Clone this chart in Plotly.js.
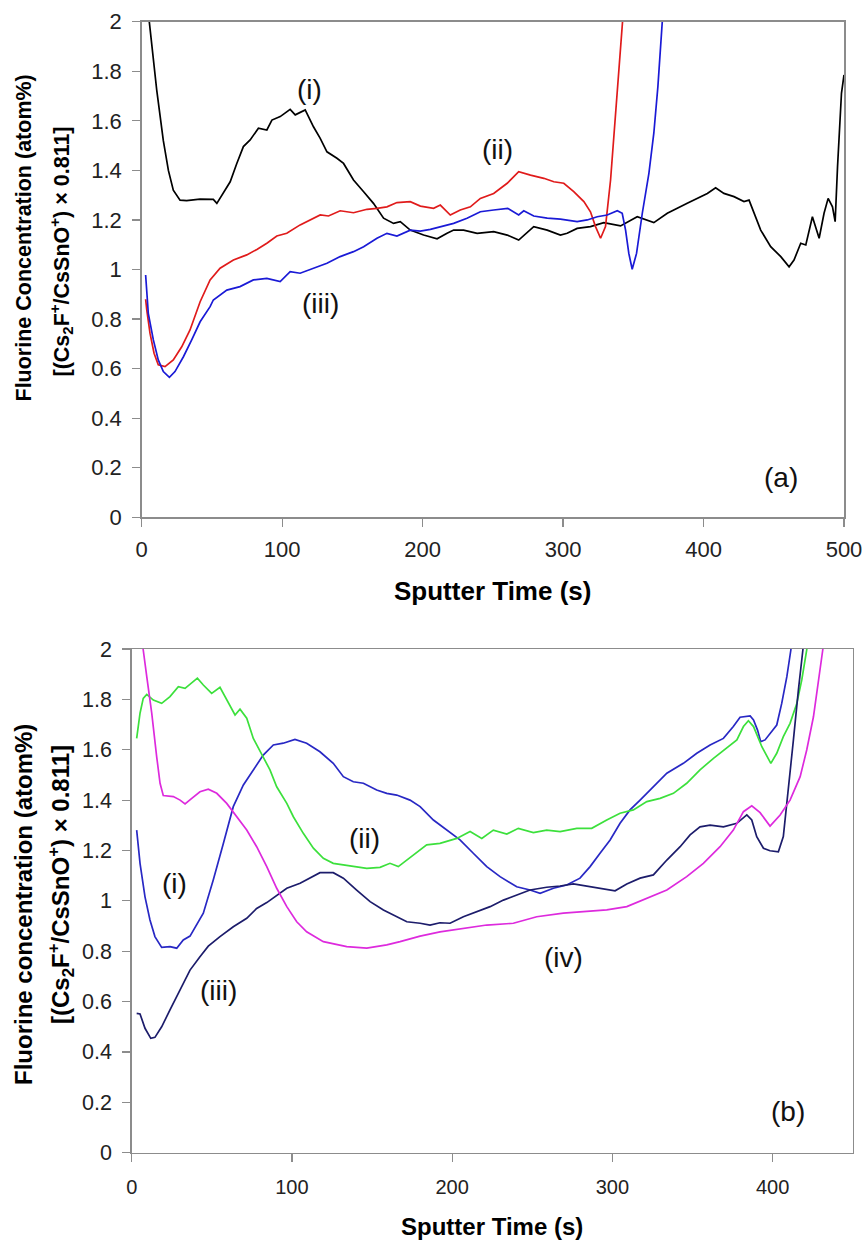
<!DOCTYPE html>
<html>
<head>
<meta charset="utf-8">
<script src="https://cdn.plot.ly/plotly-3.0.1.min.js"></script>
<style>html,body{margin:0;padding:0;background:#fff;}#chart{width:865px;height:1240px;}</style>
</head>
<body>
<div id="chart"></div>
<script>
// ---------- Panel (a) ----------
const a_i_x = [3.5, 5.4, 10.7, 13, 15.4, 19, 22.5, 27.3, 32, 41.5, 51, 53.5, 58, 63, 67.7, 72.4, 77.2, 83.1, 89.1, 92.7, 98.6, 105.7, 109.3, 114, 116.4, 122.3, 127.1, 131.9, 139, 143.7, 150.8, 158, 165, 172.2, 179.3, 184.1, 191.2, 200.7, 210.3, 217.4, 222.1, 229.2, 238.8, 250.6, 260.2, 268.4, 279.1, 288.7, 298.1, 302.9, 310, 319.5, 329, 340.9, 352.8, 364.6, 374.2, 388.4, 402.7, 408.6, 414.5, 421.7, 428.8, 432.4, 436, 440.7, 447.8, 455, 460.9, 464.4, 469.2, 472.8, 477.5, 482.3, 485.8, 488.7, 491.8, 493.7, 495.4, 498.2, 500];
const a_i_y = [2.3, 2.0, 1.724, 1.63, 1.52, 1.40, 1.32, 1.28, 1.278, 1.284, 1.283, 1.267, 1.307, 1.354, 1.428, 1.496, 1.523, 1.57, 1.563, 1.603, 1.617, 1.646, 1.624, 1.637, 1.644, 1.576, 1.529, 1.475, 1.449, 1.428, 1.361, 1.314, 1.267, 1.207, 1.186, 1.193, 1.159, 1.139, 1.124, 1.146, 1.159, 1.159, 1.146, 1.153, 1.139, 1.119, 1.173, 1.159, 1.139, 1.146, 1.166, 1.173, 1.189, 1.176, 1.213, 1.189, 1.227, 1.267, 1.307, 1.33, 1.307, 1.294, 1.274, 1.28, 1.227, 1.159, 1.092, 1.052, 1.011, 1.038, 1.106, 1.099, 1.213, 1.126, 1.227, 1.287, 1.253, 1.193, 1.415, 1.711, 1.785];

const a_ii_x = [2.8, 3.6, 5.9, 8.8, 11.8, 16.6, 22.5, 28.5, 34.4, 41.6, 48.7, 55.8, 65.3, 74.8, 82, 89.1, 96.2, 103.3, 112.8, 120, 127.1, 133, 141.3, 150.8, 160.4, 167.5, 174.6, 181.7, 191.2, 198.4, 207.8, 212.6, 219.7, 226.8, 234, 241.1, 250.6, 260.2, 268.4, 276.8, 286.3, 293.4, 300.5, 307.6, 314.8, 319.5, 323.1, 326.7, 330.2, 333.8, 337.4, 340.4, 342.8, 345];
const a_ii_y = [0.88, 0.837, 0.743, 0.662, 0.615, 0.608, 0.635, 0.688, 0.756, 0.87, 0.958, 1.005, 1.038, 1.059, 1.081, 1.106, 1.135, 1.146, 1.18, 1.2, 1.22, 1.216, 1.237, 1.229, 1.243, 1.247, 1.253, 1.27, 1.274, 1.256, 1.247, 1.26, 1.22, 1.24, 1.253, 1.287, 1.307, 1.348, 1.395, 1.381, 1.368, 1.354, 1.348, 1.314, 1.274, 1.233, 1.173, 1.126, 1.173, 1.361, 1.63, 1.845, 2.0, 2.2];

const a_iii_x = [2.8, 4.7, 8.3, 11.8, 15.4, 19.7, 23.7, 29.7, 35.6, 41.6, 48.7, 51, 60.6, 70, 79.5, 89.1, 98.6, 105.7, 112.8, 122.3, 131.9, 141.3, 150.8, 158, 167.5, 174.6, 181.7, 191.2, 198.4, 205.5, 212.6, 222.1, 231.6, 241.1, 250.6, 260.6, 268.4, 272, 279.1, 288.7, 298.1, 310, 317.2, 324.3, 331.4, 338.6, 342.1, 344.5, 346.8, 349.2, 352.3, 356.4, 361.1, 364.6, 367.5, 370.6, 373];
const a_iii_y = [0.978, 0.823, 0.716, 0.635, 0.588, 0.565, 0.588, 0.648, 0.716, 0.789, 0.85, 0.877, 0.917, 0.931, 0.958, 0.964, 0.951, 0.991, 0.985, 1.005, 1.025, 1.052, 1.072, 1.092, 1.126, 1.146, 1.135, 1.159, 1.155, 1.162, 1.173, 1.186, 1.207, 1.233, 1.24, 1.247, 1.22, 1.237, 1.216, 1.207, 1.203, 1.193, 1.2, 1.213, 1.22, 1.237, 1.227, 1.159, 1.065, 1.001, 1.065, 1.227, 1.388, 1.55, 1.738, 2.0, 2.2];

// ---------- Panel (b) ----------
const b_i_x = [3.1, 5.2, 8.3, 11.4, 14.5, 18.7, 23.9, 28.1, 32.2, 36.4, 44.7, 50.9, 57.2, 63.4, 69.7, 75.9, 82.1, 88.4, 94.6, 101.9, 109.2, 117.5, 125.8, 132.1, 138.3, 144.6, 152.9, 159.2, 165.4, 173.7, 180, 188.3, 196.6, 204.9, 213.2, 221.6, 229.9, 240.3, 248.6, 254.9, 263.2, 271.5, 279.8, 286.1, 292.3, 298.6, 304.8, 311, 317.3, 325.6, 334, 344.3, 352.7, 361, 369.3, 375.5, 379.7, 386, 388.1, 390.6, 392.6, 395.3, 398.4, 402.6, 405.7, 408.9, 411.4, 413];
const b_i_y = [1.281, 1.149, 1.016, 0.924, 0.858, 0.815, 0.818, 0.812, 0.845, 0.86, 0.951, 1.083, 1.228, 1.374, 1.46, 1.52, 1.579, 1.619, 1.626, 1.641, 1.626, 1.592, 1.546, 1.493, 1.473, 1.467, 1.44, 1.427, 1.42, 1.40, 1.374, 1.321, 1.281, 1.242, 1.189, 1.136, 1.096, 1.056, 1.043, 1.03, 1.05, 1.063, 1.09, 1.136, 1.189, 1.242, 1.308, 1.361, 1.40, 1.453, 1.507, 1.546, 1.586, 1.619, 1.645, 1.692, 1.729, 1.734, 1.718, 1.678, 1.632, 1.639, 1.665, 1.698, 1.784, 1.89, 1.996, 2.1];

const b_ii_x = [3.1, 5.2, 7.2, 9.4, 13.5, 18.7, 23.9, 29.1, 33.3, 37.5, 41, 44.7, 49.9, 55.1, 61.4, 64.5, 67.6, 71.8, 75.9, 82.1, 86.3, 90.5, 96.8, 100.9, 107.1, 113.4, 119.6, 125.8, 134.2, 140.4, 146.7, 155, 161.2, 166.4, 171.7, 177.9, 184.1, 192.4, 202.9, 211.2, 218.5, 225.7, 234.1, 241.3, 250.7, 259, 267.4, 277.8, 287.1, 296.5, 304.8, 313.1, 321.5, 329.8, 338.1, 346.4, 354.7, 363.1, 371.4, 377.7, 381.8, 384.9, 388.1, 393.3, 398.9, 402.6, 406.7, 410.9, 415.1, 418.2, 421.3, 423];
const b_ii_y = [1.645, 1.745, 1.804, 1.82, 1.797, 1.784, 1.811, 1.85, 1.844, 1.864, 1.884, 1.857, 1.824, 1.848, 1.778, 1.738, 1.761, 1.725, 1.645, 1.572, 1.52, 1.453, 1.387, 1.334, 1.268, 1.209, 1.169, 1.149, 1.142, 1.136, 1.129, 1.133, 1.149, 1.136, 1.162, 1.189, 1.222, 1.228, 1.248, 1.275, 1.248, 1.281, 1.265, 1.288, 1.271, 1.281, 1.275, 1.288, 1.288, 1.321, 1.348, 1.361, 1.394, 1.407, 1.427, 1.467, 1.52, 1.566, 1.606, 1.639, 1.692, 1.715, 1.692, 1.612, 1.546, 1.586, 1.652, 1.705, 1.784, 1.877, 1.996, 2.1];

const b_iii_x = [3.1, 5.2, 8.3, 11.9, 14.5, 18.7, 23.9, 30.2, 36.4, 42.6, 47.8, 55.1, 63.4, 71.8, 78, 84.3, 90.5, 96.8, 105.1, 111.3, 117.5, 125.8, 132.1, 140.4, 148.8, 157.1, 165.4, 171.7, 180, 186.2, 192.4, 198.7, 207, 215.4, 223.7, 232, 240.3, 248.6, 259, 267.4, 275.7, 284, 292.3, 301.7, 309, 317.3, 325.6, 334, 342.3, 348.5, 354.7, 361, 369.3, 377.7, 383.9, 387, 390.1, 394.3, 398.4, 403.6, 406.7, 409.9, 413, 416.1, 418.9, 420];
const b_iii_y = [0.553, 0.551, 0.494, 0.454, 0.458, 0.50, 0.567, 0.646, 0.725, 0.778, 0.82, 0.858, 0.897, 0.931, 0.97, 0.993, 1.023, 1.05, 1.07, 1.09, 1.112, 1.112, 1.09, 1.043, 0.997, 0.964, 0.937, 0.917, 0.911, 0.904, 0.913, 0.911, 0.937, 0.957, 0.977, 1.003, 1.023, 1.043, 1.054, 1.059, 1.067, 1.059, 1.05, 1.04, 1.067, 1.09, 1.103, 1.162, 1.215, 1.262, 1.294, 1.301, 1.294, 1.308, 1.341, 1.321, 1.255, 1.209, 1.199, 1.195, 1.255, 1.44, 1.639, 1.837, 1.996, 2.1];

const b_iv_x = [4, 7.2, 9.4, 12.5, 15.6, 17.7, 19.7, 26, 30.2, 33.3, 37.5, 42.6, 47.8, 53.1, 59.3, 65.5, 71.8, 78, 84.3, 90.5, 96.8, 103, 109.2, 119.6, 134.2, 146.7, 159.2, 167.5, 180, 192.4, 207, 221.6, 238.2, 252.8, 269.4, 284, 296.5, 309, 321.5, 334, 346.4, 356.8, 367.2, 375.5, 381.8, 387, 392.2, 398.4, 404.7, 410.9, 417.2, 421.3, 425.5, 428.6, 431.3, 433];
const b_iv_y = [2.2, 1.996, 1.89, 1.745, 1.572, 1.467, 1.418, 1.414, 1.40, 1.385, 1.407, 1.433, 1.443, 1.427, 1.387, 1.334, 1.281, 1.215, 1.136, 1.05, 0.977, 0.917, 0.877, 0.838, 0.818, 0.812, 0.825, 0.838, 0.86, 0.877, 0.891, 0.904, 0.911, 0.937, 0.951, 0.957, 0.964, 0.977, 1.01, 1.043, 1.096, 1.149, 1.215, 1.281, 1.354, 1.377, 1.35, 1.297, 1.341, 1.40, 1.493, 1.599, 1.731, 1.864, 1.996, 2.1];

const yTicks = [0, 0.2, 0.4, 0.6, 0.8, 1, 1.2, 1.4, 1.6, 1.8, 2];
const yTickText = ['0', '0.2', '0.4', '0.6', '0.8', '1', '1.2', '1.4', '1.6', '1.8', '2'];
const xTicksA = [0, 100, 200, 300, 400, 500];
const xTicksB = [0, 100, 200, 300, 400];

const curveLabelsA = [
  {text: '(i)', x: 119.5, y: 1.728},
  {text: '(ii)', x: 253, y: 1.486},
  {text: '(iii)', x: 127.1, y: 0.861},
  {text: '(a)', x: 455.4, y: 0.161}
];
const curveLabelsB = [
  {text: '(i)', x: 26.5, y: 1.067},
  {text: '(ii)', x: 145.6, y: 1.246},
  {text: '(iii)', x: 54.4, y: 0.643},
  {text: '(iv)', x: 269.7, y: 0.777},
  {text: '(b)', x: 409.4, y: 0.163}
];

const FONT = 'Liberation Sans, Arial, sans-serif';
const W = 865, H = 1240;

function line(x, y, color, xa, ya) {
  return {x: x, y: y, type: 'scatter', mode: 'lines', xaxis: xa, yaxis: ya,
          line: {color: color, width: 1.7}, hoverinfo: 'skip'};
}

const data = [
  line(a_i_x, a_i_y, '#000000', 'x', 'y'),
  line(a_ii_x, a_ii_y, '#e01b1b', 'x', 'y'),
  line(a_iii_x, a_iii_y, '#1a1ad6', 'x', 'y'),
  line(b_i_x, b_i_y, '#2828c4', 'x2', 'y2'),
  line(b_ii_x, b_ii_y, '#3ce03c', 'x2', 'y2'),
  line(b_iii_x, b_iii_y, '#1c1c6b', 'x2', 'y2'),
  line(b_iv_x, b_iv_y, '#dd2add', 'x2', 'y2')
];

function axisBase(extra) {
  return Object.assign({
    showline: true, linecolor: '#8c8c8c', linewidth: 1.5, mirror: true,
    showgrid: false, zeroline: false, ticks: 'outside', ticklen: 8,
    tickcolor: '#8c8c8c', tickwidth: 1.2, tickmode: 'array'
  }, extra);
}

const annotations = [];
curveLabelsA.forEach(l => annotations.push({text: l.text, x: l.x, y: l.y, xref: 'x', yref: 'y',
  showarrow: false, font: {family: FONT, size: 28, color: '#111'}}));
curveLabelsB.forEach(l => annotations.push({text: l.text, x: l.x, y: l.y, xref: 'x2', yref: 'y2',
  showarrow: false, font: {family: FONT, size: 28, color: '#111'}}));

function paperTitle(text, px, py, size, angle) {
  annotations.push({text: text, x: px / W, y: 1 - py / H, xref: 'paper', yref: 'paper',
    xanchor: 'center', yanchor: 'middle', showarrow: false, textangle: angle || 0,
    font: {family: FONT, size: size, color: '#000'}});
}
paperTitle('<b>Fluorine Concentration (atom%)</b>', 23, 238.5, 21.5, -90);
paperTitle('<b>[(Cs<sub>2</sub>F<sup>+</sup>/CsSnO<sup>+</sup>) × 0.811]</b>', 61, 251.5, 21.5, -90);
paperTitle('<b>Sputter Time (s)</b>', 492.5, 591, 26);
paperTitle('<b>Fluorine concentration (atom%)</b>', 23, 905, 24, -90);
paperTitle('<b>[(Cs<sub>2</sub>F<sup>+</sup>/CsSnO<sup>+</sup>) × 0.811]</b>', 61, 885, 24, -90);
paperTitle('<b>Sputter Time (s)</b>', 492, 1226, 24);

const layout = {
  width: W, height: H, margin: {l: 0, r: 0, t: 0, b: 0},
  paper_bgcolor: '#ffffff', plot_bgcolor: '#ffffff', showlegend: false,
  xaxis: axisBase({domain: [141.7 / W, 844 / W], range: [0, 500], anchor: 'y',
    tickvals: xTicksA, ticktext: xTicksA.map(String), ticklabelstandoff: 4,
    tickfont: {family: FONT, size: 22, color: '#222'}}),
  yaxis: axisBase({domain: [1 - 517.3 / H, 1 - 21.7 / H], range: [0, 2], anchor: 'x',
    tickvals: yTicks, ticktext: yTickText, ticklabelstandoff: 6,
    tickfont: {family: FONT, size: 22, color: '#222'}}),
  xaxis2: axisBase({domain: [131.7 / W, 852.7 / W], range: [0, 450], anchor: 'y2',
    tickvals: xTicksB, ticktext: xTicksB.map(String), ticklabelstandoff: 8,
    tickfont: {family: FONT, size: 20, color: '#222'}}),
  yaxis2: axisBase({domain: [1 - 1152.7 / H, 1 - 649 / H], range: [0, 2], anchor: 'x2',
    tickvals: yTicks, ticktext: yTickText, ticklabelstandoff: 6,
    tickfont: {family: FONT, size: 21.5, color: '#222'}}),
  annotations: annotations
};

Plotly.newPlot('chart', data, layout, {displayModeBar: false, staticPlot: true});
</script>
</body>
</html>
